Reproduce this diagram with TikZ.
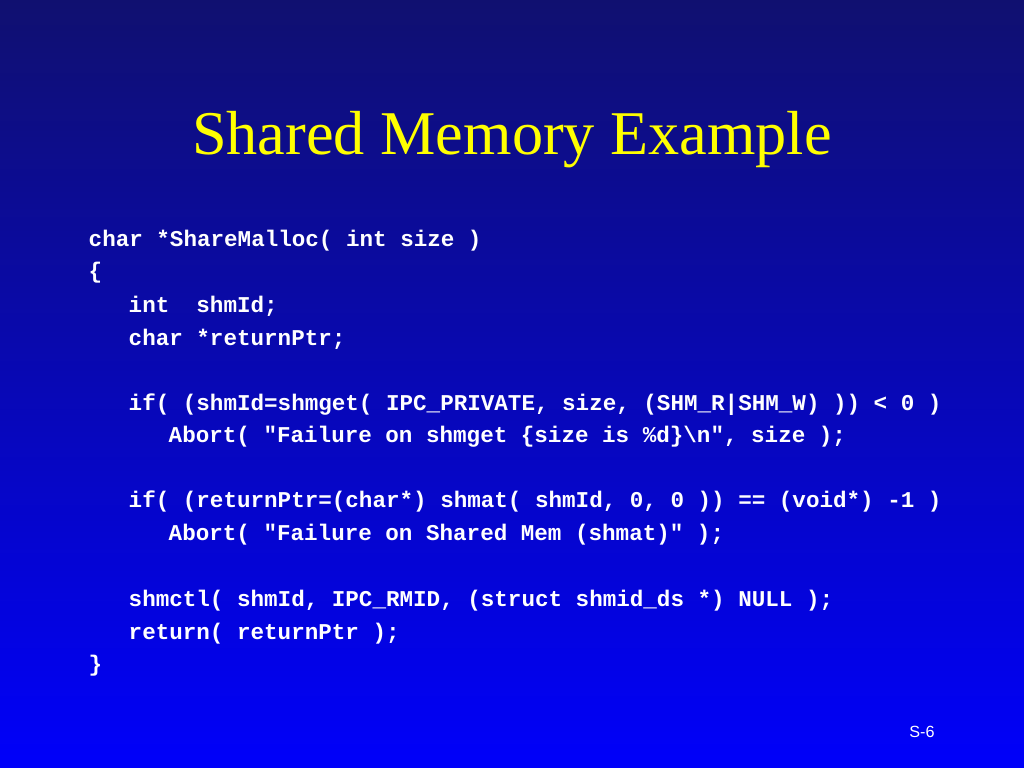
\documentclass[tikz,border=0pt]{standalone}
\usepackage{fontspec}
\setmainfont{Liberation Serif}
\newfontfamily\codefont{Liberation Mono}
\newfontfamily\labfont{Liberation Sans}
\begin{document}
\begin{tikzpicture}[x=0.01cm,y=-0.01cm,
  code/.style={anchor=west,inner sep=0pt,text=white,font=\codefont\bfseries\fontsize{6.42pt}{7pt}\selectfont}]
\shade[top color={rgb,255:red,16;green,16;blue,112},bottom color={rgb,255:red,0;green,0;blue,250}] (0,0) rectangle (1024,768);
\useasboundingbox (0,0) rectangle (1024,768);
\node[text={rgb,255:red,255;green,255;blue,0},font=\fontsize{17.7pt}{19pt}\selectfont] (title) at (512,140) {Shared Memory Example};
\node[code] (l1) at (88,241) {char *ShareMalloc( int size )};
\node[code] (l2) at (88,273) {\{};
\node[code] (l3) at (128,306) {int\ \ shmId;};
\node[code] (l4) at (128,339) {char *returnPtr;};
\node[code] (l5) at (128,405) {if( (shmId=shmget( IPC\_PRIVATE, size, (SHM\_R|SHM\_W) )) < 0 )};
\node[code] (l6) at (168,437) {Abort( "Failure on shmget \{size is \%d\}\textbackslash n", size );};
\node[code] (l7) at (128,502) {if( (returnPtr=(char*) shmat( shmId, 0, 0 )) == (void*) -1 )};
\node[code] (l8) at (168,535) {Abort( "Failure on Shared Mem (shmat)" );};
\node[code] (l9) at (128,601) {shmctl( shmId, IPC\_RMID, (struct shmid\_ds *) NULL );};
\node[code] (l10) at (128,634) {return( returnPtr );};
\node[code] (l11) at (88,666) {\}};
\node[text=white,font=\labfont\fontsize{4.6pt}{5pt}\selectfont] (pg) at (922,732) {S-6};
\end{tikzpicture}
\end{document}
